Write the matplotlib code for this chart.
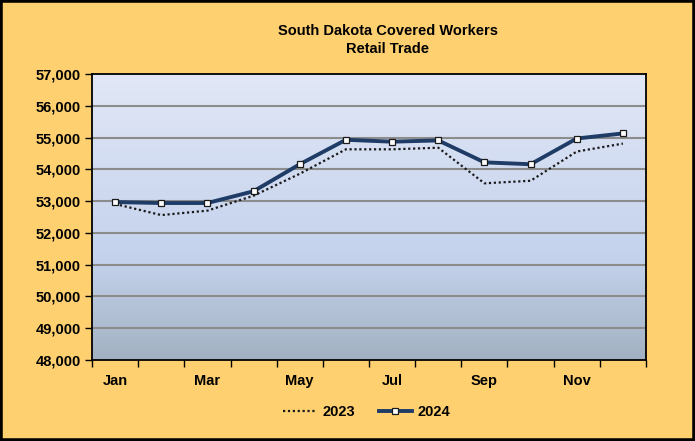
import matplotlib
matplotlib.use("Agg")
import matplotlib.pyplot as plt
import numpy as np
from matplotlib.colors import LinearSegmentedColormap
from matplotlib.patches import Rectangle

months = ["Jan", "Feb", "Mar", "Apr", "May", "Jun", "Jul", "Aug", "Sep", "Oct", "Nov", "Dec"]
tick_labels = ["Jan", "Mar", "May", "Jul", "Sep", "Nov"]
y2023 = [52910, 52560, 52700, 53170, 53860, 54630, 54630, 54680, 53560, 53640, 54560, 54810]
y2024 = [52970, 52940, 52940, 53310, 54160, 54930, 54870, 54910, 54220, 54160, 54970, 55130]
yticks = [48000, 49000, 50000, 51000, 52000, 53000, 54000, 55000, 56000, 57000]

plt.rcParams['font.family'] = ['Liberation Sans', 'DejaVu Sans']

fig = plt.figure(figsize=(6.95, 4.41), dpi=100)
fig.patch.set_facecolor("#FFD070")
fig.patches.append(Rectangle((0, 0), 1, 1, transform=fig.transFigure, fill=False,
                             edgecolor="black", linewidth=4, zorder=10))

ax = fig.add_axes([92/695, (441-360)/441, (646-92)/695, (360-74)/441])
x = np.arange(len(months))

cmap = LinearSegmentedColormap.from_list("bg", [(0, "#A2B1C1"), (0.35, "#C4D2EC"), (1, "#E1E7F6")])
grad = np.linspace(0, 1, 256).reshape(-1, 1)
ax.imshow(grad, aspect="auto", cmap=cmap, origin="lower",
          extent=[0, 1, 0, 1], transform=ax.transAxes, zorder=0)

for v in yticks[1:-1]:
    ax.axhline(v, color="#8C8C8C", linewidth=1.5, zorder=1)

ax.plot(x, y2023, linestyle=(0, (1, 1.2)), color="#1A1A1A", linewidth=1.6, zorder=3, label="2023")
ax.plot(x, y2024, color="#1F3C66", linewidth=2.8, marker="s", markersize=4.5,
        markerfacecolor="white", markeredgecolor="#1A1A1A", markeredgewidth=0.9,
        zorder=4, label="2024")

ax.set_xlim(-0.5, 11.5)
ax.set_ylim(48000, 57000)
ax.set_yticks(yticks)
ax.set_yticklabels([f"{v:,}" for v in yticks], fontsize=10.5, fontweight="bold")
ax.set_xticks(x[::2])
ax.set_xticklabels(tick_labels, fontsize=10.5, fontweight="bold")
ax.set_xticks(np.arange(-0.5, 12, 1), minor=True)
ax.tick_params(axis="x", which="major", length=0, pad=10)
ax.tick_params(axis="x", which="minor", length=5, width=1, direction="out")
ax.tick_params(axis="y", length=5, width=1, direction="out", pad=3)

for side in ["left", "bottom", "top", "right"]:
    ax.spines[side].set_color("black")
    ax.spines[side].set_linewidth(1.3)

fig.text(0.558, 0.930, "South Dakota Covered Workers", ha="center", va="center",
         fontsize=10.5, fontweight="bold")
fig.text(0.558, 0.890, "Retail Trade", ha="center", va="center",
         fontsize=10.5, fontweight="bold")

leg = fig.legend(loc="center", bbox_to_anchor=(0.528, 0.066), ncol=2, frameon=False,
                 prop={"weight": "bold", "size": 10.5}, handlelength=2.3, columnspacing=1.6,
                 handletextpad=0.4)

fig.savefig("out.png", dpi=100, facecolor=fig.get_facecolor())
